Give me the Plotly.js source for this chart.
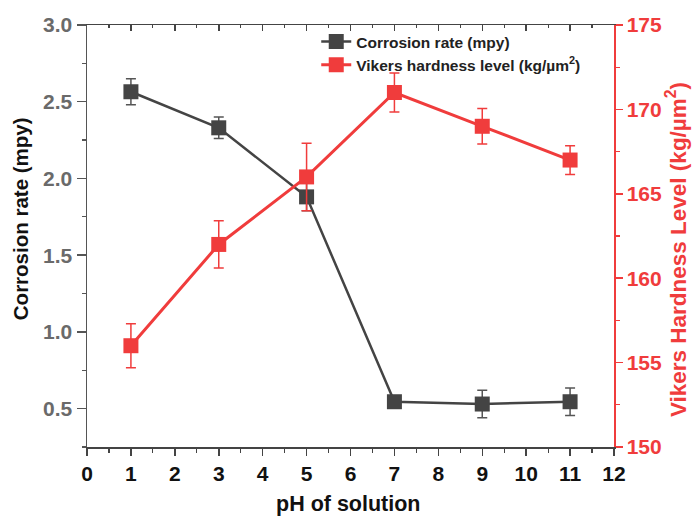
<!DOCTYPE html>
<html>
<head>
<meta charset="utf-8">
<script src="https://cdn.plot.ly/plotly-3.0.1.min.js"></script>
<style>html,body{margin:0;padding:0;background:#fff;}#chart{width:692px;height:519px;}</style>
</head>
<body>
<div id="chart"></div>
<script>
const pH = [1, 3, 5, 7, 9, 11];
const corrosionRate = [2.565, 2.33, 1.88, 0.545, 0.53, 0.545];
const corrosionErr = [0.085, 0.07, 0.09, 0.03, 0.09, 0.09];
const hardness = [156, 162, 166, 171, 169, 167];
const hardnessErr = [1.3, 1.4, 2.0, 1.15, 1.05, 0.85];
const xTicks = [0,1,2,3,4,5,6,7,8,9,10,11,12];
const leftTicks = [0.5, 1.0, 1.5, 2.0, 2.5, 3.0];
const rightTicks = [150, 155, 160, 165, 170, 175];
const xTitle = 'pH of solution';
const leftTitle = 'Corrosion rate (mpy)';
const rightTitle = 'Vikers Hardness Level (kg/µm<sup>2</sup>)';

const black = '#444444';
const red = '#f03c3c';
const fontFam = 'Arial, Liberation Sans, sans-serif';

const traces = [
  {
    x: pH, y: corrosionRate, type: 'scatter', mode: 'lines+markers',
    name: 'Corrosion rate (mpy)',
    line: {color: black, width: 2.5},
    marker: {symbol: 'square', size: 15, color: black},
    error_y: {type: 'data', array: corrosionErr, visible: true, color: '#555', thickness: 1.5, width: 5},
    xaxis: 'x', yaxis: 'y'
  },
  {
    x: pH, y: hardness, type: 'scatter', mode: 'lines+markers',
    name: 'Vikers hardness level (kg/µm<sup>2</sup>)',
    line: {color: red, width: 3},
    marker: {symbol: 'square', size: 15, color: red},
    error_y: {type: 'data', array: hardnessErr, visible: true, color: red, thickness: 1.5, width: 5},
    xaxis: 'x', yaxis: 'y2'
  },
  {
    x: [0, 12], y: [0.25, 0.25], type: 'scatter', mode: 'none',
    showlegend: false, hoverinfo: 'skip', xaxis: 'x2', yaxis: 'y'
  }
];

const layout = {
  width: 692, height: 519,
  margin: {l: 87, r: 78, t: 25, b: 72},
  paper_bgcolor: '#fff', plot_bgcolor: '#fff',
  showlegend: true,
  legend: {
    x: 0.435, y: 1.0, xanchor: 'left', yanchor: 'top',
    bgcolor: 'rgba(0,0,0,0)', tracegroupgap: 0,
    font: {family: fontFam, size: 15.5, color: '#222', weight: 'bold'},
    itemwidth: 30
  },
  xaxis: {
    range: [0, 12], tickvals: xTicks, ticktext: xTicks.map(String),
    showgrid: false, zeroline: false,
    showline: true, linecolor: black, linewidth: 1.5,
    ticks: 'outside', ticklen: 7, tickwidth: 1.5, tickcolor: black,
    minor: {dtick: 0.5, ticks: 'outside', ticklen: 4, tickwidth: 1.2, tickcolor: black},
    tickfont: {family: fontFam, size: 21, color: '#111', weight: 'bold'}
  },
  xaxis2: {
    range: [0, 12], overlaying: 'x', side: 'top', anchor: 'y',
    dtick: 1, showticklabels: false, showgrid: false, zeroline: false,
    showline: true, linecolor: black, linewidth: 1.5,
    ticks: 'inside', ticklen: 6, tickwidth: 1.5, tickcolor: black,
    minor: {dtick: 0.5, ticks: 'inside', ticklen: 3, tickwidth: 1.2, tickcolor: black}
  },
  yaxis: {
    range: [0.25, 3.0], tickvals: leftTicks,
    ticktext: leftTicks.map(v => v.toFixed(1)),
    showgrid: false, zeroline: false,
    showline: true, linecolor: '#555', linewidth: 1.5,
    ticks: 'outside', ticklen: 9, tickwidth: 1.5, tickcolor: '#555',
    minor: {dtick: 0.25, ticks: 'outside', ticklen: 4, tickwidth: 1.2, tickcolor: '#555'},
    tickfont: {family: fontFam, size: 21, color: '#6a6a6a', weight: 'bold'}
  },
  yaxis2: {
    range: [150, 175], overlaying: 'y', side: 'right', anchor: 'x',
    tickvals: rightTicks,
    showgrid: false, zeroline: false,
    showline: true, linecolor: red, linewidth: 1.5,
    ticks: 'outside', ticklen: 7, tickwidth: 1.5, tickcolor: red,
    minor: {dtick: 2.5, ticks: 'outside', ticklen: 4, tickwidth: 1.2, tickcolor: red},
    tickfont: {family: fontFam, size: 21, color: red, weight: 'bold'}
  },
  annotations: [
    {text: xTitle, xref: 'paper', yref: 'paper', x: 0.496, y: -0.136,
     xanchor: 'center', yanchor: 'middle', showarrow: false,
     font: {family: fontFam, size: 21.5, color: '#111', weight: 'bold'}},
    {text: leftTitle, xref: 'paper', yref: 'paper', x: -0.127, y: 0.54,
     xanchor: 'center', yanchor: 'middle', showarrow: false, textangle: -90,
     font: {family: fontFam, size: 20.5, color: '#111', weight: 'bold'}},
    {text: rightTitle, xref: 'paper', yref: 'paper', x: 1.118, y: 0.467,
     xanchor: 'center', yanchor: 'middle', showarrow: false, textangle: -90,
     font: {family: fontFam, size: 22.5, color: red, weight: 'bold'}}
  ]
};

Plotly.newPlot('chart', traces, layout, {displayModeBar: false, staticPlot: true});
</script>
</body>
</html>
